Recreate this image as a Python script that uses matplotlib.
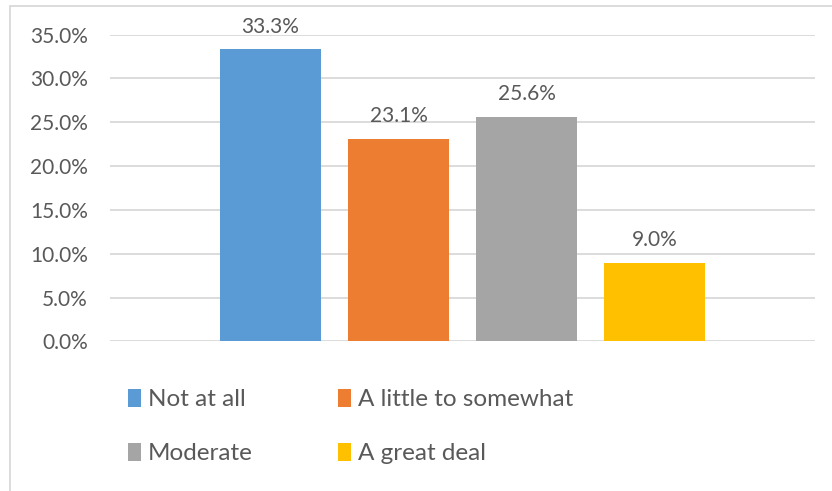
import matplotlib.pyplot as plt
from matplotlib.patches import Rectangle, Patch
from matplotlib.ticker import PercentFormatter

plt.rcParams['font.family'] = ['Lato', 'DejaVu Sans']

categories = ["Not at all", "A little to somewhat", "Moderate", "A great deal"]
values = [33.3, 23.1, 25.6, 9.0]
colors = ["#5B9BD5", "#ED7D31", "#A5A5A5", "#FFC000"]
yticks = [0, 5, 10, 15, 20, 25, 30, 35]

text_color = "#595959"
grid_color = "#D9D9D9"

fig = plt.figure(figsize=(8.32, 4.91), dpi=100)
ax = fig.add_axes([0.1322, 0.3045, 0.8474, 0.6252])

x = range(len(values))
bars = ax.bar(x, values, width=0.79, color=colors, zorder=3)

for b, v in zip(bars, values):
    ax.annotate(f"{v:.1f}%", (b.get_x() + b.get_width() / 2, v),
                xytext=(0, 9), textcoords="offset points",
                ha="center", va="bottom", fontsize=15, color=text_color)

ax.set_xlim(-1.254, 4.254)
ax.set_ylim(0, 35)
ax.set_yticks(yticks)
ax.yaxis.set_major_formatter(PercentFormatter(decimals=1))
ax.set_xticks([])
ax.tick_params(axis="y", length=0, pad=16, labelsize=15, labelcolor=text_color)
ax.grid(axis="y", color=grid_color, linewidth=1.3, zorder=0)
for s in ax.spines.values():
    s.set_visible(False)

# outer chart frame
fig.patches.append(Rectangle((10 / 832, -0.1), 1.1, 1 - 6 / 491 + 0.1,
                             transform=fig.transFigure, fill=False,
                             edgecolor=grid_color, linewidth=1.3))

handles = [Patch(facecolor=c, label=l) for c, l in zip(colors, categories)]
order = [0, 2, 1, 3]
fig.legend([handles[i] for i in order], [categories[i] for i in order],
           ncol=2, loc="upper left", bbox_to_anchor=(128 / 832, 1 - 389 / 491),
           frameon=False, fontsize=17.5, labelcolor=text_color,
           handlelength=0.53, handleheight=0.75, handletextpad=0.3,
           columnspacing=3.5, labelspacing=1.34, borderpad=0, borderaxespad=0)

fig.savefig("out.png", dpi=100)
